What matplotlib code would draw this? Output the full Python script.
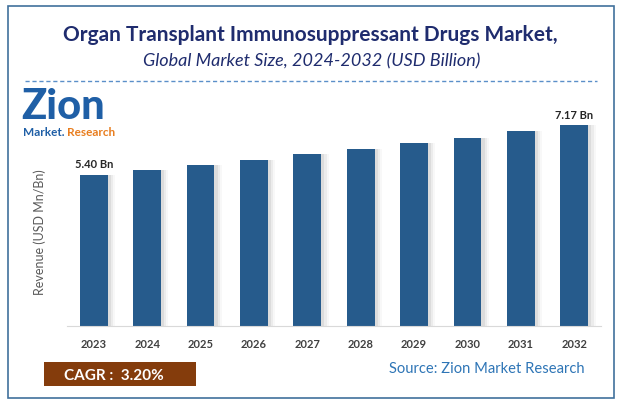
import matplotlib.pyplot as plt
from matplotlib.patches import Rectangle

years = ["2023", "2024", "2025", "2026", "2027", "2028", "2029", "2030", "2031", "2032"]
revenue = [5.40, 5.57, 5.75, 5.94, 6.13, 6.32, 6.53, 6.73, 6.95, 7.17]
first_label = "5.40 Bn"
last_label = "7.17 Bn"

W, H = 620, 410
plt.rcParams['font.family'] = ['Lato', 'DejaVu Sans']

def px(x, y):
    return x / W, 1 - y / H

fig = plt.figure(figsize=(W / 100, H / 100), dpi=100)
fig.patch.set_facecolor("white")

# outer frame
fig.patches.append(Rectangle(px(8, 399), 606 / W, 392 / H, transform=fig.transFigure,
                             fill=False, edgecolor="#41719c", linewidth=1.2))

# titles
fig.text(*px(310, 35), "Organ Transplant Immunosuppressant Drugs Market,", ha="center", va="center",
         fontsize=15, fontweight="bold", color="#1f2c6e")
fig.text(*px(312, 61), "Global Market Size, 2024-2032 (USD Billion)", ha="center", va="center",
         fontsize=13, style="italic", color="#1f2c6e")
fig.lines.append(plt.Line2D([25 / W, 597 / W], [1 - 82 / H, 1 - 82 / H], transform=fig.transFigure,
                            color="#5b8fc9", linewidth=1, linestyle=(0, (3, 2))))

# logo
zion = fig.text(*px(21, 119), "Zion", ha="left", va="baseline", fontsize=30, fontweight="black", color="#1f5fa6")
fig.canvas.draw()
zb = zion.get_window_extent()
my = (H - zb.y0) + 6
t1 = fig.text(23 / W, 1 - my / H, "Market.", ha="left", va="center", fontsize=8.5, fontweight="bold", color="#1f5fa6")
fig.canvas.draw()
bb = t1.get_window_extent()
fig.text(bb.x1 / W + 2 / W, 1 - my / H, "Research", ha="left", va="center", fontsize=8.5,
         fontweight="bold", color="#e87d1e")

# bars
ax = fig.add_axes([67 / W, 1 - 327 / H, 534 / W, 224 / H])
x = range(len(years))
for k, a in enumerate([0.10, 0.07, 0.04]):
    ax.bar([i + 0.06 + 0.04 * k for i in x], revenue, width=0.52, color="#555555", alpha=a, zorder=1)
ax.bar(x, revenue, width=0.52, color="#265b8c", zorder=2)
ax.set_xlim(-0.5, len(years) - 0.5)
ax.set_ylim(0, 8)
ax.set_xticks(list(x))
ax.set_xticklabels(years, fontsize=8, fontweight="bold", color="#404040")
ax.tick_params(axis="x", length=0, pad=9)
ax.set_yticks([])
for s in ["top", "right", "left"]:
    ax.spines[s].set_visible(False)
ax.spines["bottom"].set_color("#d9d9d9")
ax.text(0, revenue[0] + 0.2, first_label, ha="center", va="bottom", fontsize=8, fontweight="bold", color="#262626")
ax.text(len(years) - 1, revenue[-1] + 0.2, last_label, ha="center", va="bottom", fontsize=8, fontweight="bold", color="#262626")

fig.text(*px(40, 232), "Revenue (USD Mn/Bn)", rotation=90, ha="center", va="center", fontsize=9, color="#595959")

# footer
fig.patches.append(Rectangle(px(44, 387), 152 / W, 24 / H, transform=fig.transFigure,
                             facecolor="#843c0c", edgecolor="none"))
fig.text(*px(114, 376), "CAGR :  3.20%", ha="center", va="center", fontsize=11, fontweight="bold", color="white")
fig.text(*px(487, 369), "Source: Zion Market Research", ha="center", va="center", fontsize=10.6, color="#2e75b6")

fig.savefig("out.png", dpi=100, facecolor="white")
